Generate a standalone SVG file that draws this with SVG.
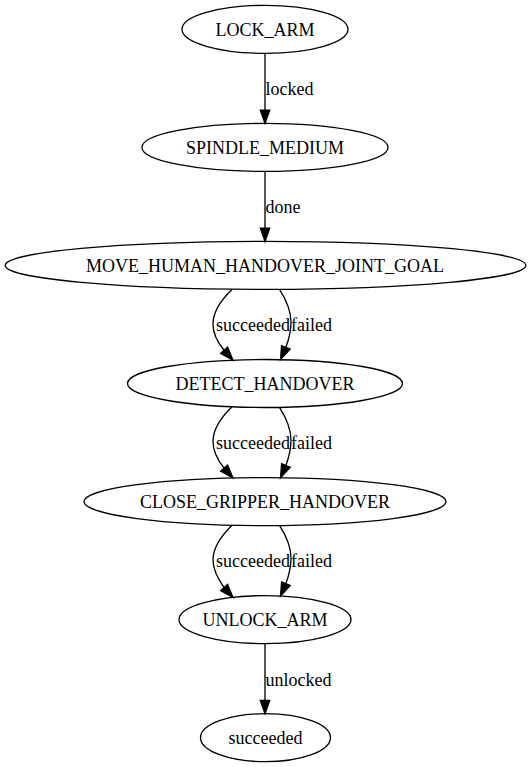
<svg xmlns="http://www.w3.org/2000/svg" width="531" height="767" viewBox="0 0 531 767">
<style>
.n ellipse{fill:none;stroke:#000;stroke-width:1.33}
text{font-family:"Liberation Serif","Times New Roman",serif;font-size:18px;fill:#000}
.n text{text-anchor:middle}
.e path,.e line{fill:none;stroke:#000;stroke-width:1.33}
.e polygon{fill:#000;stroke:#000;stroke-width:1.33}
</style>
<rect width="531" height="767" fill="#fff"/>
<g id="LOCK_ARM" class="n"><ellipse cx="265" cy="29.3" rx="83" ry="24"/><text x="265" y="35.5">LOCK_ARM</text></g>
<g id="SPINDLE_MEDIUM" class="n"><ellipse cx="265" cy="147.4" rx="123" ry="24"/><text x="265" y="153.6">SPINDLE_MEDIUM</text></g>
<g id="MOVE_HUMAN_HANDOVER_JOINT_GOAL" class="n"><ellipse cx="265.5" cy="265.4" rx="260.3" ry="24"/><text x="265" y="271.6">MOVE_HUMAN_HANDOVER_JOINT_GOAL</text></g>
<g id="DETECT_HANDOVER" class="n"><ellipse cx="265" cy="383.5" rx="137.5" ry="24"/><text x="265" y="389.7">DETECT_HANDOVER</text></g>
<g id="CLOSE_GRIPPER_HANDOVER" class="n"><ellipse cx="265" cy="501.6" rx="181" ry="24"/><text x="265" y="507.8">CLOSE_GRIPPER_HANDOVER</text></g>
<g id="UNLOCK_ARM" class="n"><ellipse cx="265" cy="619.6" rx="86" ry="24"/><text x="265" y="625.8">UNLOCK_ARM</text></g>
<g id="succeeded" class="n"><ellipse cx="265.5" cy="737.7" rx="65" ry="24"/><text x="265.5" y="743.9">succeeded</text></g>
<g id="edges" class="e">
<line x1="265" y1="53.3" x2="265" y2="110.1"/><polygon points="265,123.4 260.3,110.1 269.7,110.1"/><text x="265.5" y="95.3">locked</text>
<line x1="265" y1="171.4" x2="265" y2="228.1"/><polygon points="265,241.4 260.3,228.1 269.7,228.1"/><text x="265.5" y="213.4">done</text>
<path d="M232,289.4 C222,299 213,311 213,324 C213,334 218,343 224.1,350.3"/><polygon points="233,360.2 220.6,353.4 227.6,347.2"/>
<path d="M279.5,289.4 C285,298 291,310 291,322 C291,331 289,339 285.9,347.3"/><polygon points="280.5,359.6 290.2,349 281.6,345.6"/>
<text x="216" y="330.5">succeeded</text><text x="291" y="330.5">failed</text>
<path d="M232,406.8 C222,416.5 213,428.5 213,441.5 C213,451.5 218,460.5 224.1,468.1"/><polygon points="233,478 220.6,471.2 227.6,465"/>
<path d="M279.5,407.3 C285,416 291,428 291,440 C291,449 289,457 285.9,465.5"/><polygon points="280.5,477.8 290.2,467.2 281.6,463.8"/>
<text x="216" y="448.6">succeeded</text><text x="291" y="448.6">failed</text>
<path d="M232,525.2 C222,535 213,547 213,560 C213,570 218,579 224.1,587.5"/><polygon points="233,597.4 220.6,590.6 227.6,584.4"/>
<path d="M279.5,525.4 C285,534 291,546 291,558 C291,567 289,575 285.9,583.7"/><polygon points="280.5,596 290.2,585.4 281.6,582"/>
<text x="216" y="566.7">succeeded</text><text x="291" y="566.7">failed</text>
<line x1="265" y1="643.6" x2="265" y2="700.4"/><polygon points="265,713.7 260.3,700.4 269.7,700.4"/><text x="265.5" y="685.5">unlocked</text>
</g>
</svg>
